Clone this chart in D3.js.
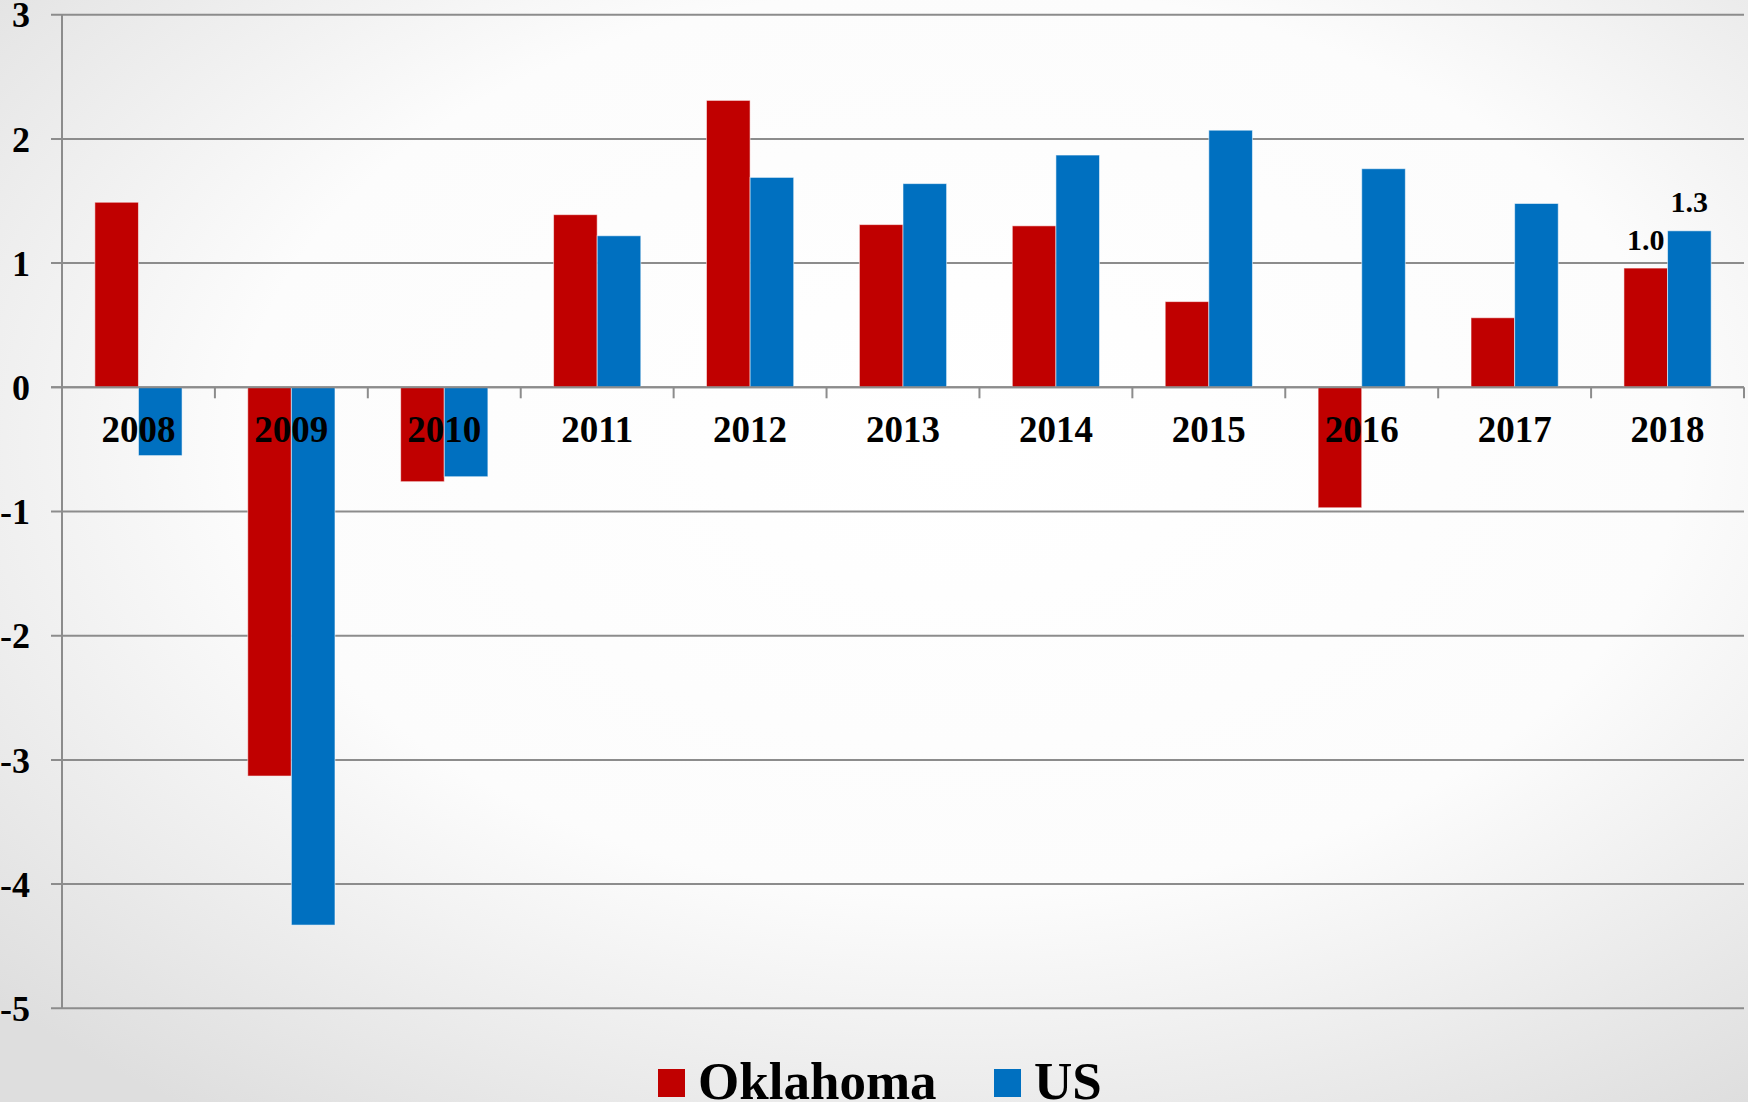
<!DOCTYPE html>
<html>
<head>
<meta charset="utf-8">
<script src="https://cdn.jsdelivr.net/npm/d3@7"></script>
<style>
  html, body { margin: 0; padding: 0; overflow: hidden; }
  svg { display: block; }
  text { font-family: "Liberation Serif", "Times New Roman", serif; font-weight: bold; fill: #000; }
</style>
</head>
<body>
<script>
const years = ["2008","2009","2010","2011","2012","2013","2014","2015","2016","2017","2018"];
const seriesNames = ["Oklahoma", "US"];
const oklahoma = [1.49, -3.13, -0.76, 1.39, 2.31, 1.31, 1.30, 0.69, -0.97, 0.56, 0.96];
const us = [-0.55, -4.33, -0.72, 1.22, 1.69, 1.64, 1.87, 2.07, 1.76, 1.48, 1.26];
const yTicks = [3, 2, 1, 0, -1, -2, -3, -4, -5];
const dataLabels = [{ series: "Oklahoma", year: "2018", text: "1.0" }, { series: "US", year: "2018", text: "1.3" }];
const colors = { "Oklahoma": "#C00000", "US": "#0070C0" };

(function () {
const W = 1748, H = 1102;
const svg = d3.select("body").append("svg").attr("width", W).attr("height", H);

// background gradient
const defs = svg.append("defs");
const rg = defs.append("radialGradient").attr("id", "bg")
  .attr("cx", "55%").attr("cy", "40%").attr("r", "75%");
rg.append("stop").attr("offset", "0%").attr("stop-color", "#ffffff");
rg.append("stop").attr("offset", "55%").attr("stop-color", "#fcfcfc");
rg.append("stop").attr("offset", "100%").attr("stop-color", "#dedede");
svg.append("rect").attr("width", W).attr("height", H).attr("fill", "url(#bg)");

const pLeft = 62, pRight = 1744, pTop = 14.7, pBottom = 1008.3;
const y = d3.scaleLinear().domain([-5, 3]).range([pBottom, pTop]);
const x0 = d3.scaleBand().domain(years).range([pLeft, pRight]).padding(0);
const x1 = d3.scaleBand().domain(seriesNames).range([0, x0.bandwidth()]).paddingInner(0).paddingOuter(0.753);

const gridColor = "#8c8c8c";

// gridlines
svg.append("g").selectAll("line").data(yTicks).join("line")
  .attr("x1", pLeft - 11).attr("x2", pRight)
  .attr("y1", d => y(d)).attr("y2", d => y(d))
  .attr("stroke", gridColor).attr("stroke-width", 2);

// y axis line
svg.append("line").attr("x1", pLeft).attr("x2", pLeft).attr("y1", pTop).attr("y2", pBottom)
  .attr("stroke", gridColor).attr("stroke-width", 2);

// y tick labels
svg.append("g").selectAll("text").data(yTicks).join("text")
  .attr("x", 30).attr("y", d => y(d)).attr("dy", "0.35em")
  .attr("text-anchor", "end").attr("font-size", 36).text(d => d);

// bars
const rows = [];
years.forEach((yr, i) => {
  rows.push({ year: yr, series: "Oklahoma", value: oklahoma[i] });
  rows.push({ year: yr, series: "US", value: us[i] });
});
svg.append("g").selectAll("rect").data(rows).join("rect")
  .attr("x", d => x0(d.year) + x1(d.series))
  .attr("width", x1.bandwidth())
  .attr("y", d => y(Math.max(0, d.value)))
  .attr("height", d => Math.abs(y(d.value) - y(0)))
  .attr("fill", d => colors[d.series])
  .attr("stroke", "rgba(255,255,255,0.55)").attr("stroke-width", 1);

// x axis line at 0 and tick marks at category boundaries
svg.append("line").attr("x1", pLeft - 11).attr("x2", pRight).attr("y1", y(0)).attr("y2", y(0))
  .attr("stroke", gridColor).attr("stroke-width", 2);
const boundaries = years.map(d => x0(d)).concat([pRight]);
svg.append("g").selectAll("line").data(boundaries).join("line")
  .attr("x1", d => d).attr("x2", d => d)
  .attr("y1", y(0)).attr("y2", y(0) + 11)
  .attr("stroke", gridColor).attr("stroke-width", 2);

// category labels
svg.append("g").selectAll("text").data(years).join("text")
  .attr("x", d => x0(d) + x0.bandwidth() / 2)
  .attr("y", 442)
  .attr("text-anchor", "middle").attr("font-size", 37).text(d => d);

// data labels
const valOf = (s, yr) => (s === "Oklahoma" ? oklahoma : us)[years.indexOf(yr)];
svg.append("g").selectAll("text").data(dataLabels).join("text")
  .attr("x", d => x0(d.year) + x1(d.series) + x1.bandwidth() / 2)
  .attr("y", d => y(valOf(d.series, d.year)) - 18.5)
  .attr("text-anchor", "middle").attr("font-size", 30).text(d => d.text);

// legend
const legend = [{ name: "Oklahoma", x: 658 }, { name: "US", x: 994 }];
const lg = svg.append("g").selectAll("g").data(legend).join("g");
lg.append("rect").attr("x", d => d.x).attr("y", 1069).attr("width", 27).attr("height", 28)
  .attr("fill", d => colors[d.name]);
lg.append("text").attr("x", d => d.x + 40).attr("y", 1099)
  .attr("font-size", 53).text(d => d.name);
})();
</script>
</body>
</html>
